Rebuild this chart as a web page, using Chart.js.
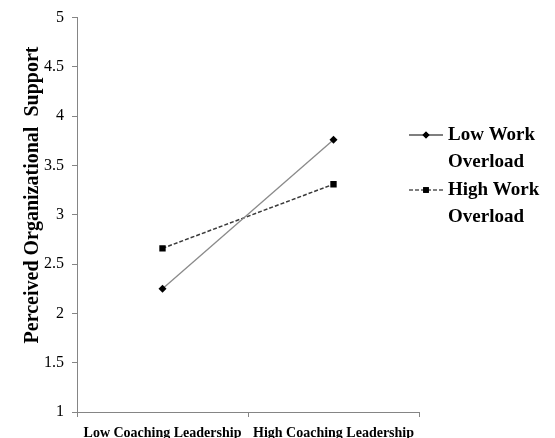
<!DOCTYPE html>
<html>
<head>
<meta charset="utf-8">
<script src="https://cdn.jsdelivr.net/npm/chart.js@4"></script>
<style>
  html, body { margin: 0; padding: 0; background: #fff; }
  #wrap { width: 555px; height: 438px; }
</style>
</head>
<body>
<div id="wrap"><canvas id="c" width="555" height="438"></canvas></div>
<script>
const categories = ['Low Coaching Leadership', 'High Coaching Leadership'];
const lowOverload = [2.25, 3.76];
const highOverload = [2.66, 3.31];
const legendLines = [['Low Work', 'Overload'], ['High Work', 'Overload']];
const yTitle = 'Perceived Organizational  Support';

const serif = '"Liberation Serif", "Times New Roman", serif';
const axisGray = '#858585';

// y title and two-line legend, drawn by hand so they sit where the original has them
const extras = {
  id: 'extras',
  afterDraw(chart) {
    const ctx = chart.ctx;
    ctx.save();
    ctx.fillStyle = '#000';
    ctx.font = 'bold 20px ' + serif;
    ctx.textAlign = 'center';
    ctx.textBaseline = 'middle';
    ctx.translate(33, 195);
    ctx.rotate(-Math.PI / 2);
    ctx.fillText(yTitle, 0, 0);
    ctx.restore();

    const rows = [135, 190];
    chart.data.datasets.forEach((ds, i) => {
      const y = rows[i];
      ctx.save();
      ctx.strokeStyle = ds.pointBackgroundColor;
      ctx.lineWidth = 1.2;
      ctx.setLineDash(ds.borderDash || []);
      ctx.beginPath();
      ctx.moveTo(409, y);
      ctx.lineTo(443, y);
      ctx.stroke();
      ctx.setLineDash([]);
      Chart.helpers.drawPoint(ctx, {
        pointStyle: ds.pointStyle, radius: ds.pointRadius - 0.5, rotation: 0, borderWidth: 0
      }, 426, y);
      ctx.fillStyle = ds.pointBackgroundColor;
      ctx.fill();
      ctx.fillStyle = '#000';
      ctx.font = 'bold 19px ' + serif;
      ctx.textAlign = 'left';
      ctx.textBaseline = 'middle';
      legendLines[i].forEach((t, k) => ctx.fillText(t, 448, y + k * 27));
      ctx.restore();
    });
  }
};

new Chart(document.getElementById('c'), {
  type: 'line',
  data: {
    labels: categories,
    datasets: [
      {
        label: 'Low Work Overload',
        data: lowOverload,
        borderColor: '#8a8a8a',
        borderWidth: 1.3,
        pointStyle: 'rectRot',
        pointRadius: 4,
        pointBackgroundColor: '#000',
        pointBorderColor: '#000',
        pointBorderWidth: 0,
        tension: 0
      },
      {
        label: 'High Work Overload',
        data: highOverload,
        borderColor: '#3a3a3a',
        borderWidth: 1.5,
        borderDash: [4, 2],
        pointStyle: 'rect',
        pointRadius: 4.5,
        pointBackgroundColor: '#000',
        pointBorderColor: '#000',
        pointBorderWidth: 0,
        tension: 0
      }
    ]
  },
  options: {
    responsive: false,
    animation: false,
    layout: { padding: { left: 0, right: 136, top: 16, bottom: 0 } },
    plugins: { legend: { display: false }, tooltip: { enabled: false } },
    scales: {
      x: {
        offset: true,
        grid: { offset: true, drawOnChartArea: false, drawTicks: true, tickLength: 5, color: axisGray },
        border: { display: true, color: axisGray, width: 1 },
        ticks: { color: '#000', padding: 8, font: { family: serif, size: 14, weight: 'bold' } },
        afterFit(s) { s.height = 26; }
      },
      y: {
        min: 1,
        max: 5,
        grid: { drawOnChartArea: false, drawTicks: true, tickLength: 5, color: axisGray },
        border: { display: true, color: axisGray, width: 1 },
        ticks: {
          stepSize: 0.5, color: '#000', padding: 8, font: { family: serif, size: 16 },
          callback: v => String(v)
        },
        afterFit(s) { s.width = 77; }
      }
    }
  },
  plugins: [extras]
});
</script>
</body>
</html>
